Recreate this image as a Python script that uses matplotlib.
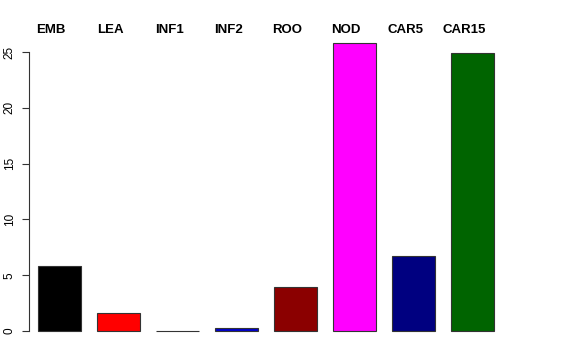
import matplotlib
matplotlib.use("Agg")
import matplotlib.pyplot as plt
import matplotlib.transforms as mtransforms

# data
tissues = ["EMB", "LEA", "INF1", "INF2", "ROO", "NOD", "CAR5", "CAR15"]
values = [5.82, 1.6, 0.03, 0.25, 3.94, 25.8, 6.72, 24.9]
colors = ["black", "red", "green", "mediumblue", "darkred", "magenta", "navy", "darkgreen"]
yticks = [0, 5, 10, 15, 20, 25]

plt.rcParams['font.family'] = ['Liberation Sans', 'DejaVu Sans']

W, H = 576, 360
fig = plt.figure(figsize=(W / 100, H / 100), dpi=100)
# axes in pixel terms: left spine at x=29, zero at y=331
ax = fig.add_axes([29 / W, (H - 331) / H, 474 / W, (331 - 40.8) / H])

x = range(len(tissues))
bars = ax.bar(x, values, width=0.73, color=colors, edgecolor="#333333", linewidth=0.8)
for b in bars:
    b.set_clip_on(False)
ax.set_xlim(-0.518, 7.518)
ax.set_ylim(0, 26)

for s in ["top", "right", "bottom"]:
    ax.spines[s].set_visible(False)
ax.spines["left"].set_bounds(0, 25)
ax.spines["left"].set_color("#333333")
ax.set_xticks([])
ax.set_yticks(yticks)
ax.tick_params(axis="y", length=5, width=0.8, color="#333333", labelsize=8.5, pad=4.5)
for lab in ax.get_yticklabels():
    lab.set_rotation(90)
    lab.set_va("center")

# bold tissue names above each bar
trans = mtransforms.blended_transform_factory(ax.transData, fig.transFigure)
for i, name in enumerate(tissues):
    ax.text(i - 0.14, 1 - 33 / H, name, transform=trans, ha="center", va="baseline",
            fontsize=9.5, fontweight="bold")

fig.savefig("out.png", dpi=100)
